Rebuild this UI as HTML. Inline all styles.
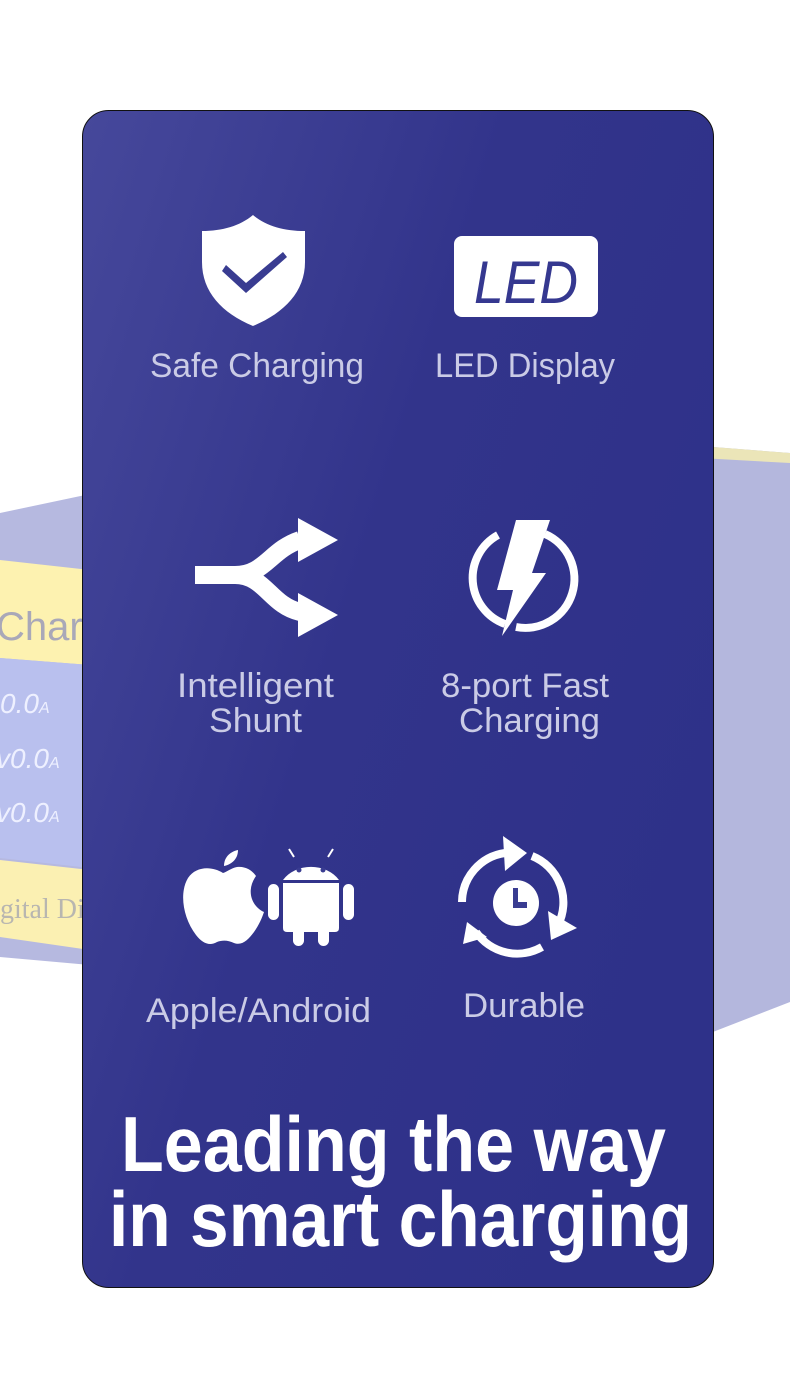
<!DOCTYPE html>
<html><head><meta charset="utf-8"><style>
html,body{margin:0;padding:0;background:#fff;}
svg{display:block}
</style></head><body>
<svg width="790" height="1400" viewBox="0 0 790 1400" xmlns="http://www.w3.org/2000/svg">
<defs>
<linearGradient id="cg" x1="0" y1="0" x2="1" y2="0.6">
<stop offset="0" stop-color="#46489b"/>
<stop offset="0.5" stop-color="#32348b"/>
<stop offset="1" stop-color="#2e3189"/>
</linearGradient>
</defs>
<!-- background device left -->
<polygon points="0,513 90,494 90,965 0,957" fill="#b6b9e0"/>
<polygon points="0,560 90,570 90,665 0,658" fill="#fdf2b0"/>
<polygon points="0,658 90,665 90,868 0,858" fill="#b9c0ee"/>
<polygon points="0,860 90,870 90,950 0,937" fill="#fbf0b2"/>
<text x="-4" y="640" font-family="Liberation Sans Narrow, Liberation Sans, sans-serif" font-size="40" fill="#a9a8b8">Charg</text>
<text x="0" y="713" font-family="Liberation Sans Narrow, Liberation Sans, sans-serif" font-size="28" font-style="italic" fill="#eef0ff">0.0<tspan font-size="16">A</tspan></text>
<text x="-4" y="768" font-family="Liberation Sans Narrow, Liberation Sans, sans-serif" font-size="28" font-style="italic" fill="#eef0ff">v0.0<tspan font-size="16">A</tspan></text>
<text x="-4" y="822" font-family="Liberation Sans Narrow, Liberation Sans, sans-serif" font-size="28" font-style="italic" fill="#eef0ff">v0.0<tspan font-size="16">A</tspan></text>
<text x="0" y="918" font-family="Liberation Serif, serif" font-size="28" fill="#b8b6b0">gital Di</text>
<!-- background device right -->
<polygon points="700,446 790,453 790,1002 700,1037" fill="#b4b7dd"/>
<polygon points="700,446 790,453 790,463 700,458" fill="#ebe5b8"/>
<!-- card -->
<rect x="82.5" y="110.5" width="631" height="1177" rx="26" fill="url(#cg)" stroke="#111" stroke-width="1"/>
<!-- shield -->
<path d="M253,215 C240,226 222,231 202,231 L202,262 C202,292 222,313 253,326 C284,313 305,292 305,262 L305,231 C284,231 266,226 253,215 Z" fill="#fff"/>
<path d="M226,265 L246,283 L283,252 L287,257 L246,293 L222,271 Z" fill="#393c91"/>
<!-- LED -->
<rect x="454" y="236" width="144" height="81" rx="8" fill="#fff"/>
<text x="474" y="303" font-family="Liberation Sans Narrow, Liberation Sans, sans-serif" font-size="60" font-style="italic" fill="#353890" textLength="104" lengthAdjust="spacingAndGlyphs">LED</text>
<!-- shunt -->
<path d="M195,575 L235,575 C265,575 270,550 300,540" fill="none" stroke="#fff" stroke-width="18"/>
<path d="M235,575 C265,575 270,605 300,612" fill="none" stroke="#fff" stroke-width="18"/>
<polygon points="298,518 338,540 298,562" fill="#fff"/>
<polygon points="298,593 338,615 298,637" fill="#fff"/>
<!-- bolt circle -->
<path d="M498,535 A49,49 0 0 0 505,624" fill="none" stroke="#fff" stroke-width="8"/>
<path d="M545,534 A49,49 0 0 1 516,627" fill="none" stroke="#fff" stroke-width="8"/>
<polygon points="516,520 550,520 532,573 546,573 502,636 513,590 497,590" fill="#fff"/>
<!-- apple -->
<path d="M223,873 C212,866 196,866 188,878 C179,893 183,918 196,935 C203,944 210,946 217,942 C222,940 228,940 234,943 C242,946 248,940 254,932 C259,925 262,918 264,912 C251,906 246,890 256,876 C252,870 245,866 237,867 C231,868 227,872 223,873 Z" fill="#fff"/>
<path d="M224,866 C224,858 229,852 238,850 C238,858 233,864 224,866 Z" fill="#fff"/>
<!-- android -->
<path d="M283,880 A33,28 0 0 1 339,880 Z" fill="#fff"/>
<line x1="294" y1="857" x2="289" y2="849" stroke="#fff" stroke-width="2"/>
<line x1="328" y1="857" x2="333" y2="849" stroke="#fff" stroke-width="2"/>
<circle cx="299" cy="870" r="2.5" fill="#393c91"/>
<circle cx="323" cy="870" r="2.5" fill="#393c91"/>
<path d="M283,883 L339,883 L339,928 Q339,932 335,932 L287,932 Q283,932 283,928 Z" fill="#fff"/>
<rect x="268" y="884" width="11" height="36" rx="5.5" fill="#fff"/>
<rect x="343" y="884" width="11" height="36" rx="5.5" fill="#fff"/>
<rect x="293" y="920" width="11" height="26" rx="5.5" fill="#fff"/>
<rect x="318" y="920" width="11" height="26" rx="5.5" fill="#fff"/>
<!-- durable -->
<path d="M462,902 A50,50 0 0 1 505,853" fill="none" stroke="#fff" stroke-width="8"/>
<polygon points="503,836 527,853 505,871" fill="#fff"/>
<path d="M532,856 A50,50 0 0 1 558,925" fill="none" stroke="#fff" stroke-width="8"/>
<polygon points="548,911 577,928 551,940" fill="#fff"/>
<path d="M542,947 A50,50 0 0 1 476,932" fill="none" stroke="#fff" stroke-width="8"/>
<polygon points="467,922 487,937 463,944" fill="#fff"/>
<circle cx="516" cy="903" r="23" fill="#fff"/>
<path d="M513,888 L518,888 L518,902 L527,902 L527,908 L513,908 Z" fill="#393c91"/>
<!-- labels -->
<g font-family="Liberation Sans Narrow, Liberation Sans, sans-serif" font-size="34" fill="#cacbe6" lengthAdjust="spacingAndGlyphs">
<text x="150" y="377" textLength="214" lengthAdjust="spacingAndGlyphs">Safe Charging</text>
<text x="435" y="377" textLength="180" lengthAdjust="spacingAndGlyphs">LED Display</text>
<text x="177" y="697" textLength="157" lengthAdjust="spacingAndGlyphs">Intelligent</text>
<text x="209" y="732" textLength="93" lengthAdjust="spacingAndGlyphs">Shunt</text>
<text x="441" y="697" textLength="168" lengthAdjust="spacingAndGlyphs">8-port Fast</text>
<text x="459" y="732" textLength="141" lengthAdjust="spacingAndGlyphs">Charging</text>
<text x="146" y="1022" textLength="225" lengthAdjust="spacingAndGlyphs">Apple/Android</text>
<text x="463" y="1017" textLength="122" lengthAdjust="spacingAndGlyphs">Durable</text>
</g>
<g font-family="Liberation Sans, sans-serif" font-weight="bold" font-size="78" fill="#fff">
<text x="121" y="1171" textLength="545" lengthAdjust="spacingAndGlyphs">Leading the way</text>
<text x="109" y="1246" textLength="583" lengthAdjust="spacingAndGlyphs">in smart charging</text>
</g>
</svg>
</body></html>
